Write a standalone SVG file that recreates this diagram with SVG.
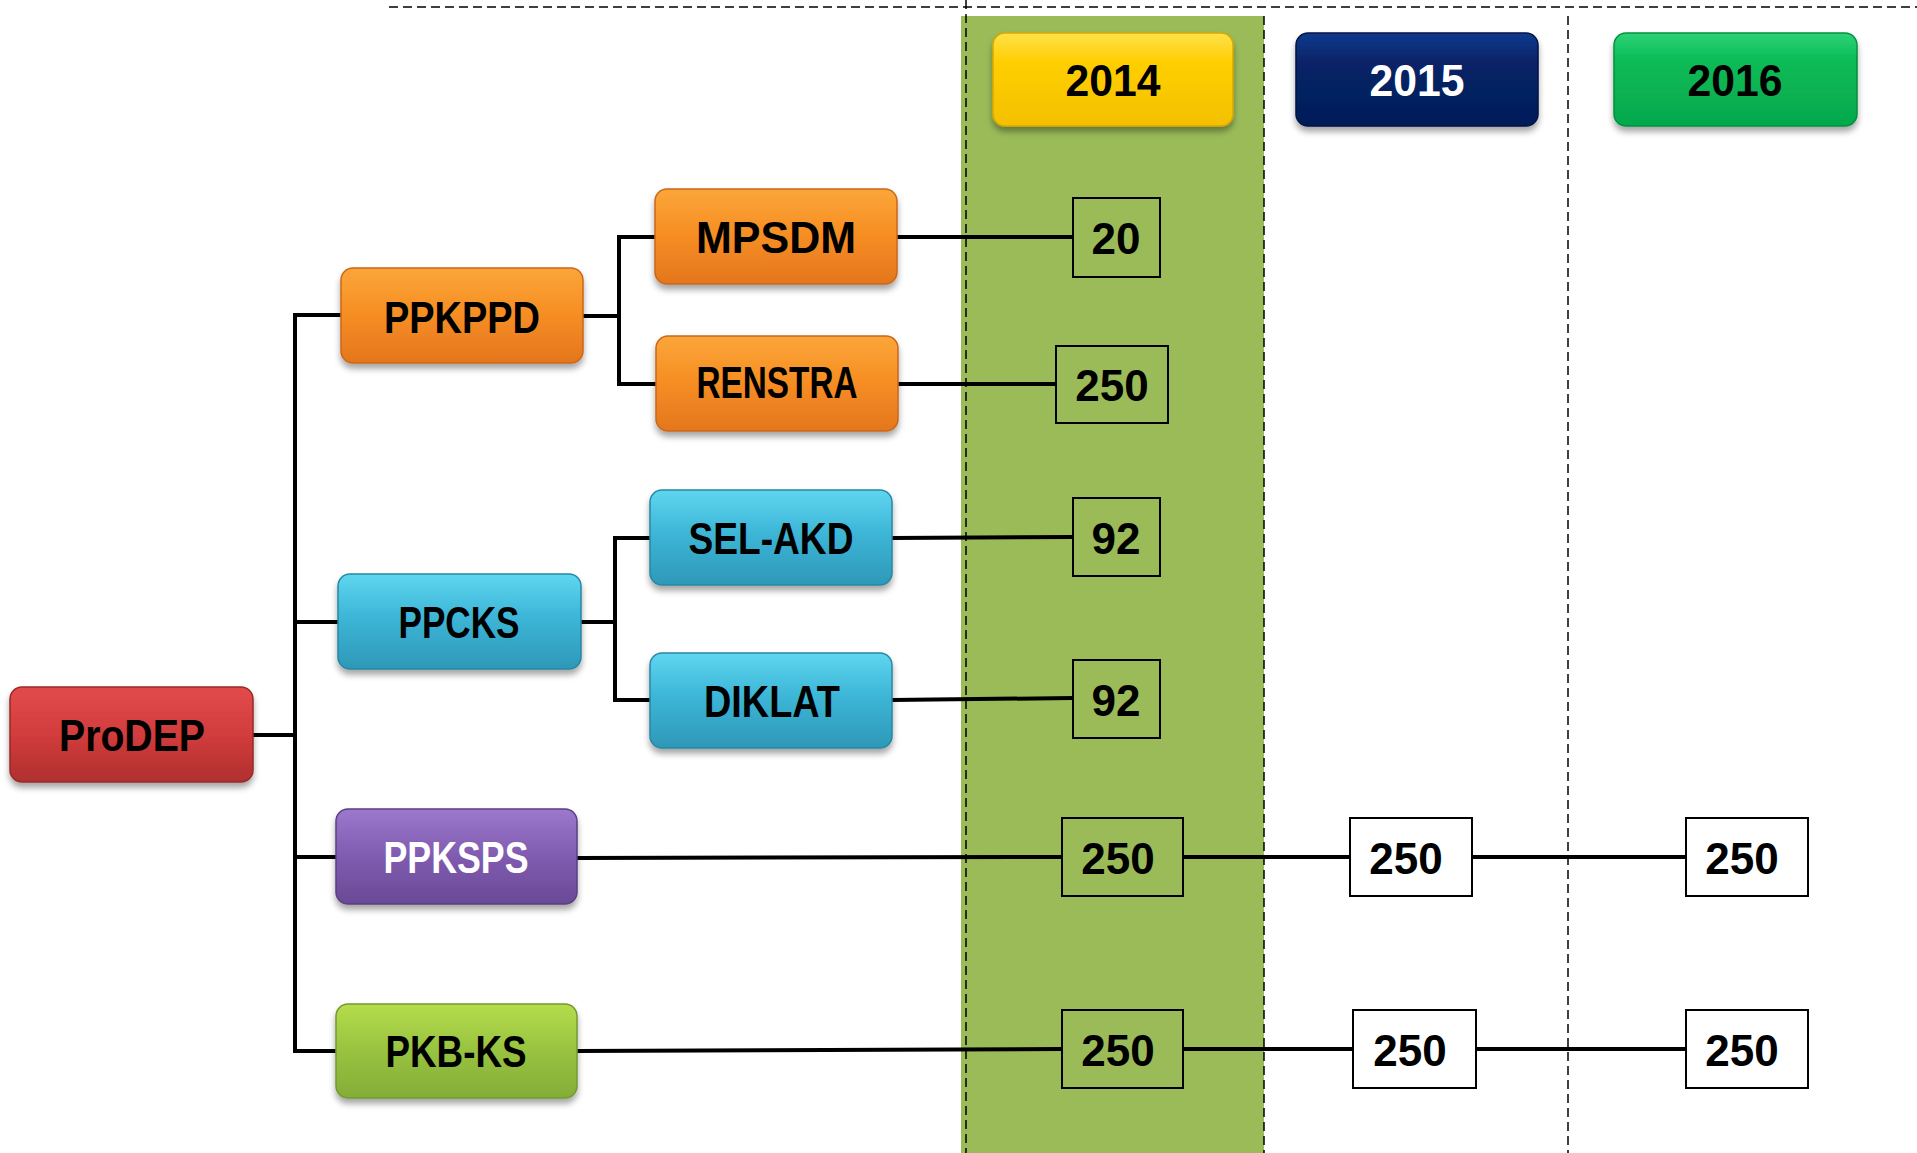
<svg xmlns="http://www.w3.org/2000/svg" width="1917" height="1153" viewBox="0 0 1917 1153">
<defs>
<filter id="sh" x="-10%" y="-10%" width="120%" height="140%">
<feDropShadow dx="0" dy="5" stdDeviation="3" flood-color="#000" flood-opacity="0.35"/>
</filter>
<linearGradient id="gRed" x1="0" y1="0" x2="0" y2="1"><stop offset="0" stop-color="#E24B4B"/><stop offset="0.5" stop-color="#D23C3C"/><stop offset="1" stop-color="#B02F2F"/></linearGradient>
<linearGradient id="gOra" x1="0" y1="0" x2="0" y2="1"><stop offset="0" stop-color="#FBA63A"/><stop offset="0.5" stop-color="#F68D22"/><stop offset="1" stop-color="#E4761E"/></linearGradient>
<linearGradient id="gBlu" x1="0" y1="0" x2="0" y2="1"><stop offset="0" stop-color="#5FD6F0"/><stop offset="0.45" stop-color="#3DB6D7"/><stop offset="1" stop-color="#2E98B8"/></linearGradient>
<linearGradient id="gPur" x1="0" y1="0" x2="0" y2="1"><stop offset="0" stop-color="#9C79CC"/><stop offset="0.5" stop-color="#805BB0"/><stop offset="1" stop-color="#6A4A96"/></linearGradient>
<linearGradient id="gLgr" x1="0" y1="0" x2="0" y2="1"><stop offset="0" stop-color="#B6DC4C"/><stop offset="0.5" stop-color="#98C340"/><stop offset="1" stop-color="#83AD37"/></linearGradient>
<linearGradient id="gYel" x1="0" y1="0" x2="0" y2="1"><stop offset="0" stop-color="#FFE24A"/><stop offset="0.3" stop-color="#FFCF05"/><stop offset="1" stop-color="#F3C000"/></linearGradient>
<linearGradient id="gNav" x1="0" y1="0" x2="0" y2="1"><stop offset="0" stop-color="#123A8E"/><stop offset="0.3" stop-color="#072468"/><stop offset="1" stop-color="#051D58"/></linearGradient>
<linearGradient id="gGrn" x1="0" y1="0" x2="0" y2="1"><stop offset="0" stop-color="#2ED276"/><stop offset="0.3" stop-color="#08BB56"/><stop offset="1" stop-color="#06A84C"/></linearGradient>
</defs>
<style>
.node rect{stroke-width:1.5;filter:url(#sh)}
.lbl{font-family:"Liberation Sans",Arial,sans-serif;font-weight:bold;font-size:44px;text-anchor:middle;fill:#000}
.wht{fill:#fff}
.conn line,.conn polyline{stroke:#000;stroke-width:4;fill:none}
.dash{stroke:#000;stroke-width:1.5;stroke-dasharray:9 5;fill:none}
.val rect{stroke:#000;stroke-width:2}
.v{font-family:"Liberation Sans",Arial,sans-serif;font-weight:bold;font-size:44px;text-anchor:middle;fill:#000}
</style>

<rect id="band2014" x="961" y="16" width="303" height="1137" fill="#9BBB59"/>
<g id="guides">
<line class="dash" x1="389" y1="7" x2="1917" y2="7"/>
<line class="dash" x1="966" y1="0" x2="966" y2="1153"/>
<line class="dash" x1="1264" y1="16" x2="1264" y2="1153"/>
<line class="dash" x1="1568" y1="16" x2="1568" y2="1153"/>
</g>

<g id="connectors" class="conn">
<polyline points="253,735 295,735"/>
<line x1="295" y1="313" x2="295" y2="1053"/>
<line x1="293" y1="315" x2="341" y2="315"/>
<line x1="295" y1="622" x2="338" y2="622"/>
<line x1="295" y1="857" x2="336" y2="857"/>
<line x1="293" y1="1051" x2="336" y2="1051"/>
<polyline points="583,316 619,316"/>
<polyline points="655,237 619,237 619,384 656,384"/>
<polyline points="581,622 615,622"/>
<polyline points="650,538 615,538 615,700 650,700"/>
<line x1="897" y1="237" x2="1073" y2="237"/>
<line x1="898" y1="384" x2="1056" y2="384"/>
<line x1="892" y1="538" x2="1073" y2="537"/>
<line x1="892" y1="700" x2="1073" y2="698"/>
<line x1="577" y1="858" x2="1062" y2="857"/>
<line x1="1183" y1="857" x2="1350" y2="857"/>
<line x1="1472" y1="857" x2="1686" y2="857"/>
<line x1="577" y1="1051" x2="1062" y2="1049"/>
<line x1="1183" y1="1049" x2="1353" y2="1049"/>
<line x1="1476" y1="1049" x2="1686" y2="1049"/>
</g>

<g id="y2014" class="node"><rect x="993" y="33" width="240" height="93" rx="12" fill="url(#gYel)" stroke="#D9A800"/><text class="lbl" x="1113" y="96" textLength="95" lengthAdjust="spacingAndGlyphs">2014</text></g>
<g id="y2015" class="node"><rect x="1296" y="33" width="242" height="93" rx="12" fill="url(#gNav)" stroke="#041644"/><text class="lbl wht" x="1417" y="96" textLength="95" lengthAdjust="spacingAndGlyphs">2015</text></g>
<g id="y2016" class="node"><rect x="1614" y="33" width="243" height="93" rx="12" fill="url(#gGrn)" stroke="#05913F"/><text class="lbl" x="1735" y="96" textLength="95" lengthAdjust="spacingAndGlyphs">2016</text></g>

<g id="ProDEP" class="node"><rect x="10" y="687" width="243" height="95" rx="12" fill="url(#gRed)" stroke="#9A2828"/><text class="lbl" x="132" y="751" textLength="146" lengthAdjust="spacingAndGlyphs">ProDEP</text></g>
<g id="PPKPPD" class="node"><rect x="341" y="268" width="242" height="95" rx="12" fill="url(#gOra)" stroke="#C9671A"/><text class="lbl" x="462" y="333" textLength="156" lengthAdjust="spacingAndGlyphs">PPKPPD</text></g>
<g id="PPCKS" class="node"><rect x="338" y="574" width="243" height="95" rx="12" fill="url(#gBlu)" stroke="#2787A4"/><text class="lbl" x="459" y="638" textLength="121" lengthAdjust="spacingAndGlyphs">PPCKS</text></g>
<g id="PPKSPS" class="node"><rect x="336" y="809" width="241" height="95" rx="12" fill="url(#gPur)" stroke="#5B3F84"/><text class="lbl wht" x="456" y="873" textLength="145" lengthAdjust="spacingAndGlyphs">PPKSPS</text></g>
<g id="PKB-KS" class="node"><rect x="336" y="1004" width="241" height="94" rx="12" fill="url(#gLgr)" stroke="#729A2F"/><text class="lbl" x="456" y="1067" textLength="141" lengthAdjust="spacingAndGlyphs">PKB-KS</text></g>
<g id="MPSDM" class="node"><rect x="655" y="189" width="242" height="95" rx="12" fill="url(#gOra)" stroke="#C9671A"/><text class="lbl" x="776" y="253" textLength="160" lengthAdjust="spacingAndGlyphs">MPSDM</text></g>
<g id="RENSTRA" class="node"><rect x="656" y="336" width="242" height="95" rx="12" fill="url(#gOra)" stroke="#C9671A"/><text class="lbl" x="777" y="398" font-size="40" textLength="161" lengthAdjust="spacingAndGlyphs">RENSTRA</text></g>
<g id="SEL-AKD" class="node"><rect x="650" y="490" width="242" height="95" rx="12" fill="url(#gBlu)" stroke="#2787A4"/><text class="lbl" x="771" y="554" textLength="165" lengthAdjust="spacingAndGlyphs">SEL-AKD</text></g>
<g id="DIKLAT" class="node"><rect x="650" y="653" width="242" height="95" rx="12" fill="url(#gBlu)" stroke="#2787A4"/><text class="lbl" x="772" y="717" textLength="136" lengthAdjust="spacingAndGlyphs">DIKLAT</text></g>

<g id="v-mpsdm-2014" class="val"><rect x="1073" y="198" width="87" height="79" fill="none"/><text class="v" x="1116" y="254">20</text></g>
<g id="v-renstra-2014" class="val"><rect x="1056" y="346" width="112" height="77" fill="none"/><text class="v" x="1112" y="401">250</text></g>
<g id="v-selakd-2014" class="val"><rect x="1073" y="498" width="87" height="78" fill="none"/><text class="v" x="1116" y="554">92</text></g>
<g id="v-diklat-2014" class="val"><rect x="1073" y="660" width="87" height="78" fill="none"/><text class="v" x="1116" y="716">92</text></g>
<g id="v-ppksps-2014" class="val"><rect x="1062" y="818" width="121" height="78" fill="none"/><text class="v" x="1118" y="874">250</text></g>
<g id="v-ppksps-2015" class="val"><rect x="1350" y="818" width="122" height="78" fill="#fff"/><text class="v" x="1406" y="874">250</text></g>
<g id="v-ppksps-2016" class="val"><rect x="1686" y="818" width="122" height="78" fill="#fff"/><text class="v" x="1742" y="874">250</text></g>
<g id="v-pkbks-2014" class="val"><rect x="1062" y="1010" width="121" height="78" fill="none"/><text class="v" x="1118" y="1066">250</text></g>
<g id="v-pkbks-2015" class="val"><rect x="1353" y="1010" width="123" height="78" fill="#fff"/><text class="v" x="1410" y="1066">250</text></g>
<g id="v-pkbks-2016" class="val"><rect x="1686" y="1010" width="122" height="78" fill="#fff"/><text class="v" x="1742" y="1066">250</text></g>
</svg>
